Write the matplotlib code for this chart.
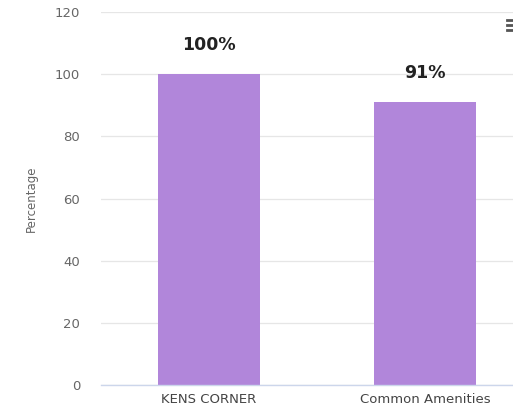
import matplotlib.pyplot as plt
from matplotlib.lines import Line2D

# data
categories = ["KENS CORNER", "Common Amenities"]
values = [100, 91]
labels = ["100%", "91%"]

BAR_COLOR = "#b186da"
GRID_COLOR = "#e6e6e6"
TEXT_COLOR = "#666666"

plt.rcParams['font.family'] = ['DejaVu Sans']

fig = plt.figure(figsize=(5.13, 4.13), dpi=100)
# plot area: x 101..513 px, y 12..385 px (from top)
ax = fig.add_axes([101 / 513, (413 - 385) / 413, (513 - 101) / 513, (385 - 12) / 413])

x = list(range(len(categories)))
ax.bar(x, values, width=0.472, color=BAR_COLOR, zorder=2)

for xi, v, lab in zip(x, values, labels):
    ax.text(xi, v + 6.5, lab, ha='center', va='bottom', fontsize=12.5,
            fontweight='bold', color='#222222')

ax.set_xlim(-0.5, (513 - 101) / 216 - 0.5)
ax.set_ylim(0, 120)
ax.set_yticks(range(0, 121, 20))
ax.set_xticks(x)
ax.set_xticklabels(categories)

ax.grid(axis='y', color=GRID_COLOR, linewidth=0.9, zorder=0)
for side in ['top', 'right', 'left']:
    ax.spines[side].set_visible(False)
ax.spines['bottom'].set_color('#ccd6eb')
ax.spines['bottom'].set_linewidth(1)

ax.tick_params(axis='y', length=0, pad=15, labelsize=9.5, labelcolor=TEXT_COLOR)
ax.tick_params(axis='x', length=0, pad=6, labelsize=9.5, labelcolor='#444444')

ax.set_ylabel("Percentage", fontsize=8.5, color=TEXT_COLOR, labelpad=12)

# menu icon in top-right corner
for yy in [20, 25, 30]:
    fig.add_artist(Line2D([507 / 513, 513 / 513], [1 - yy / 413, 1 - yy / 413],
                          color='#555555', linewidth=2))

fig.savefig("out.png", dpi=100)
